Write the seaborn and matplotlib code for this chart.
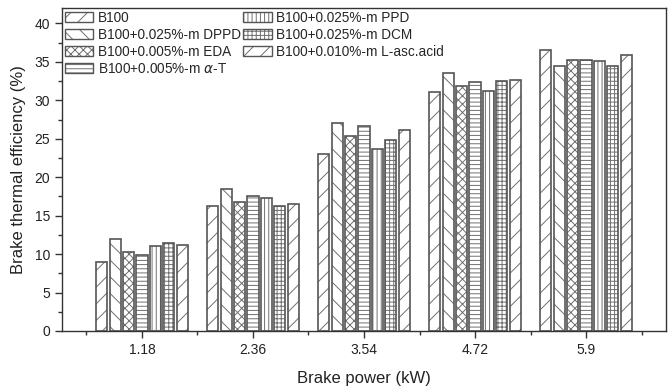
import matplotlib
matplotlib.use("Agg")
import matplotlib.pyplot as plt
import seaborn as sns
import pandas as pd
from matplotlib.patches import Patch
from matplotlib.colors import to_rgba
from matplotlib.ticker import MultipleLocator, FixedLocator

powers = ["1.18", "2.36", "3.54", "4.72", "5.9"]
fuels = ["B100", "B100+0.025%-m DPPD", "B100+0.005%-m EDA", "B100+0.005%-m $\\alpha$-T",
         "B100+0.025%-m PPD", "B100+0.025%-m DCM", "B100+0.010%-m L-asc.acid"]
b100 = [9.0, 16.3, 23.0, 31.1, 36.5]
dppd = [12.0, 18.5, 27.1, 33.6, 34.5]
eda = [10.3, 16.8, 25.3, 31.9, 35.2]
alpha_t = [9.9, 17.6, 26.6, 32.4, 35.2]
ppd = [11.0, 17.3, 23.7, 31.2, 35.1]
dcm = [11.5, 16.3, 24.8, 32.5, 34.5]
lasc = [11.2, 16.5, 26.2, 32.6, 35.9]
series = [b100, dppd, eda, alpha_t, ppd, dcm, lasc]
hatches = ["//", "\\\\", "xxxx", "----", "||||", "++++", "//"]

rows = []
for f, vals in zip(fuels, series):
    for p, v in zip(powers, vals):
        rows.append({"power": p, "eff": v, "fuel": f})
df = pd.DataFrame(rows)

sns.set_style("ticks")
plt.rcParams["font.family"] = ["Liberation Sans", "DejaVu Sans"]
plt.rcParams["hatch.linewidth"] = 0.7
plt.rcParams["mathtext.fontset"] = "dejavusans"

edge = "#555555"
hcol = to_rgba("#707070")
fig = plt.figure(figsize=(6.68, 3.86), dpi=100)
ax = fig.add_axes([62 / 668, 55 / 386, (666 - 62) / 668, (331 - 8) / 386])

sns.barplot(data=df, x="power", y="eff", hue="fuel", hue_order=fuels, order=powers,
            palette=["white"] * len(fuels), width=0.845, gap=0.16, edgecolor=edge,
            linewidth=1.2, legend=False, ax=ax, errorbar=None)

for cont, h in zip(ax.containers, hatches):
    for bar in cont:
        bar.set_hatch(h)
        bar.set_edgecolor(edge)
        bar._hatch_color = hcol

ax.set_xlim(-0.72, 4.72)
ax.set_ylim(0, 42)
ax.yaxis.set_major_locator(MultipleLocator(5))
ax.yaxis.set_minor_locator(MultipleLocator(2.5))
ax.xaxis.set_minor_locator(FixedLocator([-0.5, 0.5, 1.5, 2.5, 3.5, 4.5]))
ax.tick_params(axis="both", which="major", direction="out", length=5, width=1, labelsize=10, colors="#333333", labelcolor="#222222")
ax.tick_params(axis="both", which="minor", direction="out", length=3, width=1, colors="#333333")
for s in ax.spines.values():
    s.set_visible(True)
    s.set_linewidth(1.0)
    s.set_color("#333333")

ax.set_xlabel("Brake power (kW)", fontsize=12, color="#222222", labelpad=10)
ax.set_ylabel("Brake thermal efficiency (%)", fontsize=12, color="#222222", labelpad=6)

handles = []
for h in hatches:
    p = Patch(facecolor="white", edgecolor=edge, hatch=h, linewidth=1.0)
    p._hatch_color = hcol
    handles.append(p)
leg = ax.legend(handles, fuels, ncol=2, loc="upper left", bbox_to_anchor=(0.0, 1.0),
                frameon=False, fontsize=9.8, handlelength=2.1, handleheight=0.75,
                handletextpad=0.35, columnspacing=0.15, labelspacing=0.22, borderaxespad=0.05,
                borderpad=0.15)

fig.savefig("out.png", dpi=100)
